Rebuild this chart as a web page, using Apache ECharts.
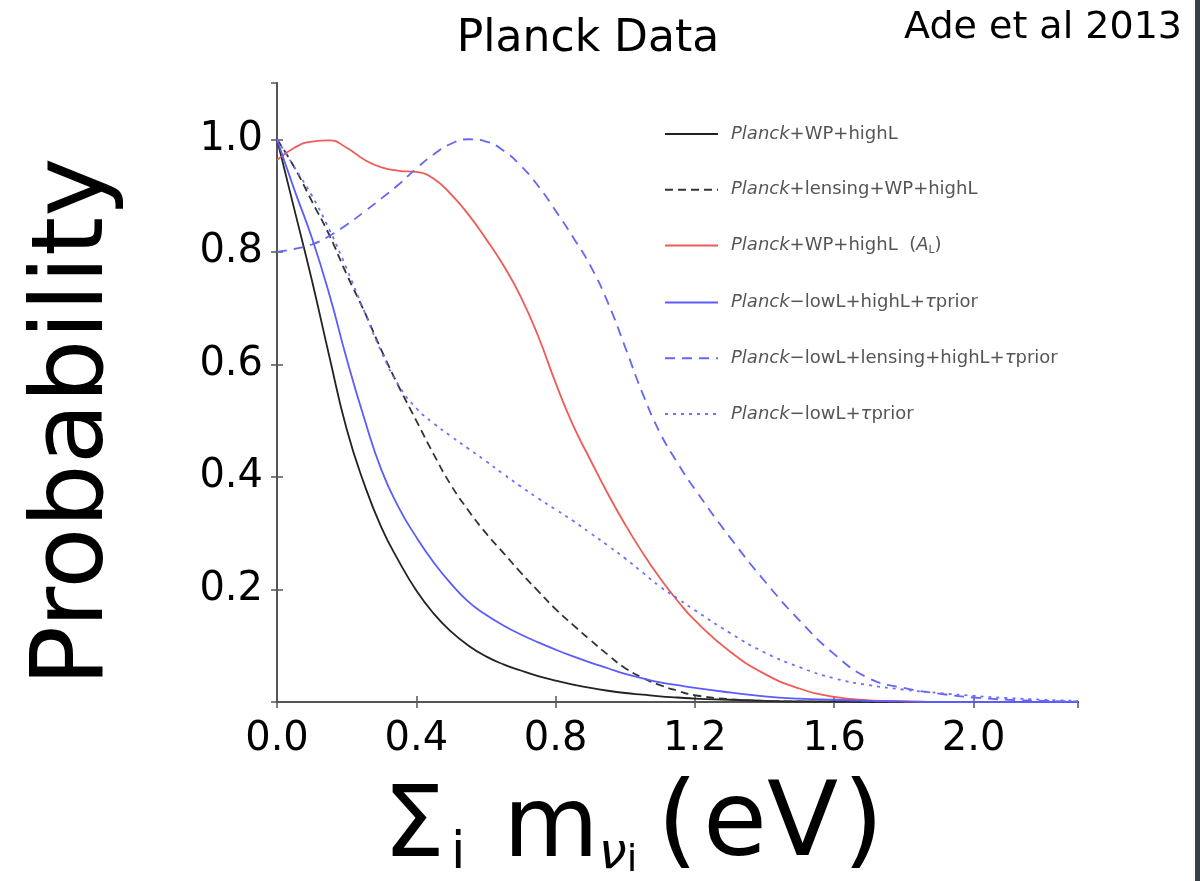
<!DOCTYPE html>
<html>
<head>
<meta charset="utf-8">
<title>Planck Data</title>
<script src="https://cdn.jsdelivr.net/npm/echarts@6/dist/echarts.min.js"></script>
<style>
  html, body { margin: 0; padding: 0; background: #fff; }
  #chart { width: 1200px; height: 881px; }
</style>
</head>
<body>
<div id="chart"></div>
<script>
// sum of neutrino masses (eV) where each curve was read
var massGrid = [0, 0.05, 0.1, 0.15, 0.2, 0.25, 0.3, 0.35, 0.4, 0.45, 0.5, 0.55, 0.6, 0.65, 0.7, 0.75,
  0.8, 0.85, 0.9, 0.95, 1.0, 1.05, 1.1, 1.15, 1.2, 1.3, 1.4, 1.5, 1.6, 1.7, 1.8, 1.9, 2.0, 2.1, 2.2, 2.3];

var planckWP = [1.0, 0.875, 0.75, 0.615, 0.485, 0.388, 0.31, 0.25, 0.198, 0.157, 0.125, 0.1, 0.081, 0.067, 0.056, 0.046,
  0.038, 0.031, 0.025, 0.02, 0.016, 0.013, 0.01, 0.008, 0.006, 0.004, 0.002, 0.001, 0.001, 0, 0, 0, 0, 0, 0, 0];
var planckLensingWP = [1.0, 0.95, 0.89, 0.83, 0.76, 0.695, 0.625, 0.56, 0.5, 0.44, 0.385, 0.34, 0.3, 0.265, 0.23, 0.197,
  0.165, 0.137, 0.11, 0.084, 0.06, 0.043, 0.03, 0.02, 0.012, 0.005, 0.002, 0.001, 0, 0, 0, 0, 0, 0, 0, 0];
var planckWPAL = [0.963, 0.985, 0.996, 0.998, 0.985, 0.964, 0.95, 0.944, 0.942, 0.93, 0.902, 0.866, 0.823, 0.776, 0.72, 0.65,
  0.567, 0.492, 0.43, 0.37, 0.315, 0.265, 0.22, 0.18, 0.145, 0.09, 0.05, 0.024, 0.009, 0.003, 0.001, 0, 0, 0, 0, 0];
var planckLowLTau = [1.0, 0.91, 0.825, 0.725, 0.61, 0.505, 0.412, 0.345, 0.293, 0.248, 0.21, 0.178, 0.155, 0.136, 0.12, 0.106,
  0.093, 0.081, 0.07, 0.06, 0.05, 0.042, 0.035, 0.03, 0.025, 0.017, 0.01, 0.006, 0.004, 0.002, 0.001, 0, 0, 0, 0, 0];
var planckLowLLensingTau = [0.8, 0.805, 0.813, 0.828, 0.848, 0.871, 0.895, 0.92, 0.948, 0.973, 0.992, 1.0, 0.996, 0.98, 0.953, 0.917,
  0.873, 0.826, 0.775, 0.71, 0.63, 0.548, 0.478, 0.425, 0.378, 0.293, 0.215, 0.145, 0.085, 0.042, 0.025, 0.015, 0.008, 0.004, 0.002, 0.001];
var planckLowLOnlyTau = [1.0, 0.95, 0.9, 0.84, 0.77, 0.695, 0.622, 0.562, 0.522, 0.495, 0.472, 0.45, 0.428, 0.405, 0.383, 0.362,
  0.342, 0.322, 0.3, 0.278, 0.255, 0.23, 0.205, 0.184, 0.163, 0.123, 0.088, 0.062, 0.042, 0.03, 0.022, 0.016, 0.011, 0.007, 0.004, 0.002];

var seriesNames = ['Planck+WP+highL', 'Planck+lensing+WP+highL', 'Planck+WP+highL (AL)',
  'Planck-lowL+highL+τprior', 'Planck-lowL+lensing+highL+τprior', 'Planck-lowL+τprior'];
var legendLabels = [
  '{i|Planck}{n|+WP+highL}',
  '{i|Planck}{n|+lensing+WP+highL}',
  '{i|Planck}{n|+WP+highL  (}{i|A}{sub|L}{n|)}',
  '{i|Planck}{n|−lowL+highL+}{i|τ}{n|prior}',
  '{i|Planck}{n|−lowL+lensing+highL+}{i|τ}{n|prior}',
  '{i|Planck}{n|−lowL+}{i|τ}{n|prior}'
];

var FONT = '"DejaVu Sans", sans-serif';

function pairs(ys) {
  return massGrid.map(function (m, i) { return [m, ys[i]]; });
}

function curve(name, ys, color, type) {
  return {
    name: name,
    type: 'line',
    data: pairs(ys),
    smooth: 0.5,
    showSymbol: false,
    symbol: 'none',
    lineStyle: { color: color, width: 1.8, type: type },
    itemStyle: { color: color },
    z: 3
  };
}

var chart = echarts.init(document.getElementById('chart'));

var axisLineStyle = { color: '#555', width: 2 };
var tickStyle = { show: true, inside: true, length: 6, lineStyle: { color: '#555', width: 1.5 } };

chart.setOption({
  backgroundColor: '#fff',
  animation: false,
  grid: { left: 277, right: 122, top: 83, bottom: 179, containLabel: false },
  legend: {
    orient: 'vertical',
    left: 659,
    top: 120,
    itemWidth: 53,
    itemHeight: 20,
    itemGap: 37.8,
    selectedMode: false,
    itemStyle: { opacity: 0 },
    data: seriesNames,
    formatter: function (name) {
      return legendLabels[seriesNames.indexOf(name)];
    },
    textStyle: {
      padding: [0, 0, 0, 8],
      color: '#555',
      rich: {
        i: { fontFamily: FONT, fontSize: 18, fontStyle: 'italic', color: '#555' },
        n: { fontFamily: FONT, fontSize: 18, color: '#555' },
        sub: { fontFamily: FONT, fontSize: 11, color: '#555', verticalAlign: 'bottom', padding: [9, 0, 0, 0] }
      }
    }
  },
  xAxis: [{
    type: 'value',
    position: 'bottom',
    min: 0,
    max: 2.3,
    interval: 0.4,
    axisLine: { show: true, lineStyle: axisLineStyle },
    axisTick: tickStyle,
    axisLabel: {
      fontFamily: FONT, fontSize: 40, color: '#000', margin: 18,
      showMaxLabel: false,
      formatter: function (v) { return v.toFixed(1); }
    },
    splitLine: { show: false }
  }, {
    type: 'value',
    position: 'top',
    min: 0,
    max: 2.3,
    interval: 0.4,
    axisLine: { show: true, lineStyle: axisLineStyle },
    axisTick: tickStyle,
    axisLabel: { show: false },
    splitLine: { show: false }
  }],
  yAxis: [{
    type: 'value',
    position: 'left',
    min: 0,
    max: 1.1,
    interval: 0.2,
    axisLine: { show: true, lineStyle: axisLineStyle },
    axisTick: tickStyle,
    axisLabel: {
      fontFamily: FONT, fontSize: 40, color: '#000', margin: 14,
      showMinLabel: false, showMaxLabel: false,
      formatter: function (v) { return v.toFixed(1); }
    },
    splitLine: { show: false }
  }, {
    type: 'value',
    position: 'right',
    min: 0,
    max: 1.1,
    interval: 0.2,
    axisLine: { show: true, lineStyle: axisLineStyle },
    axisTick: tickStyle,
    axisLabel: { show: false },
    splitLine: { show: false }
  }],
  graphic: [
    { type: 'rect', z: -10, silent: true, shape: { x: 0, y: 0, width: 1200, height: 881 }, style: { fill: '#3b4047' } },
    { type: 'rect', z: -9, silent: true, shape: { x: -60, y: -60, width: 1255, height: 1000, r: 36 }, style: { fill: '#fff' } },
    {
      type: 'text', x: 588, y: 40, silent: true,
      style: { text: 'Planck Data', font: '44px ' + FONT, fill: '#000', align: 'center', verticalAlign: 'middle' }
    },
    {
      type: 'text', x: 1182, y: 28, silent: true,
      style: { text: 'Ade et al 2013', font: '38px ' + FONT, fill: '#000', align: 'right', verticalAlign: 'middle' }
    },
    {
      type: 'text', x: 76, y: 422, rotation: Math.PI / 2, silent: true,
      style: { text: 'Probability', font: '100px ' + FONT, fill: '#000', align: 'center', verticalAlign: 'middle' }
    },
    {
      type: 'text', x: 383, y: 828, silent: true,
      style: {
        text: '{a|Σ}{s|i}{gap|}{a|m}{n|ν}{ss|i}{gap2|}{b|(}{pad|}{b|eV}{pad|}{b|)}',
        fill: '#000',
        align: 'left',
        verticalAlign: 'middle',
        rich: {
          a: { fontFamily: FONT, fontSize: 98, fill: '#000', verticalAlign: 'bottom' },
          b: { fontFamily: FONT, fontSize: 104, fill: '#000', verticalAlign: 'bottom' },
          s: { fontFamily: FONT, fontSize: 52, fill: '#000', verticalAlign: 'bottom', padding: [0, 0, 0, 6] },
          n: { fontFamily: FONT, fontSize: 50, fontStyle: 'italic', fill: '#000', verticalAlign: 'bottom' },
          ss: { fontFamily: FONT, fontSize: 38, fill: '#000', verticalAlign: 'bottom' },
          gap: { width: 38 },
          gap2: { width: 20 },
          pad: { width: 5 }
        }
      }
    }
  ],
  series: [
    curve(seriesNames[0], planckWP, '#222', 'solid'),
    curve(seriesNames[1], planckLensingWP, '#333', [8, 5]),
    curve(seriesNames[2], planckWPAL, '#ef5b55', 'solid'),
    curve(seriesNames[3], planckLowLTau, '#5a5cff', 'solid'),
    curve(seriesNames[4], planckLowLLensingTau, '#6466f4', [10, 7]),
    curve(seriesNames[5], planckLowLOnlyTau, '#6c6eff', [3, 5])
  ]
});
</script>
</body>
</html>
